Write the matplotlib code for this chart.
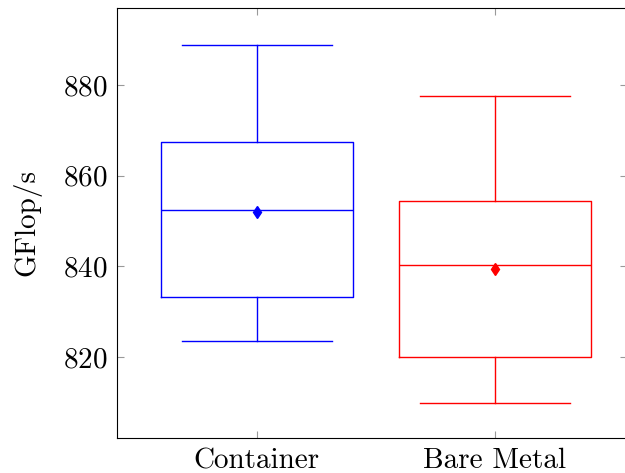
import matplotlib.pyplot as plt

plt.rcParams['font.family'] = 'serif'
plt.rcParams['font.serif'] = ['cmr10', 'DejaVu Serif']
plt.rcParams['axes.formatter.use_mathtext'] = True

labels = ['Container', 'Bare Metal']
colors = ['blue', 'red']
# lower whisker, q1, median, q3, upper whisker, mean
whislo = [823.5, 809.9]
q1 = [833.2, 820.0]
med = [852.5, 840.2]
q3 = [867.5, 854.4]
whishi = [888.8, 877.6]
means = [852.0, 839.3]

fig = plt.figure(figsize=(6.25, 4.73), dpi=100)
ax = fig.add_axes([0.1872, 0.074, 0.8160, 0.9091])

for i in range(len(labels)):
    stats = [dict(whislo=whislo[i], q1=q1[i], med=med[i], q3=q3[i],
                  whishi=whishi[i], mean=means[i], fliers=[])]
    c = colors[i]
    ax.bxp(stats, positions=[i + 1], widths=0.807, showmeans=True,
           capwidths=[0.63],
           boxprops=dict(color=c, lw=1.0),
           whiskerprops=dict(color=c, lw=1.0),
           capprops=dict(color=c, lw=1.0),
           medianprops=dict(color=c, lw=1.0),
           meanprops=dict(marker='d', markerfacecolor=c, markeredgecolor=c,
                          markersize=6))

ax.set_xlim(0.412, 2.555)
ax.set_ylim(802.1, 897.0)
ax.set_yticks([820, 840, 860, 880])
ax.set_xticks([1, 2])
ax.set_xticklabels(labels)
ax.set_ylabel('GFlop/s', fontsize=21, labelpad=15)
ax.tick_params(direction='in', top=True, right=True, color='#999999',
               length=5, labelsize=21, width=0.8, pad=7)
for s in ax.spines.values():
    s.set_linewidth(0.8)

fig.savefig('out.png')
